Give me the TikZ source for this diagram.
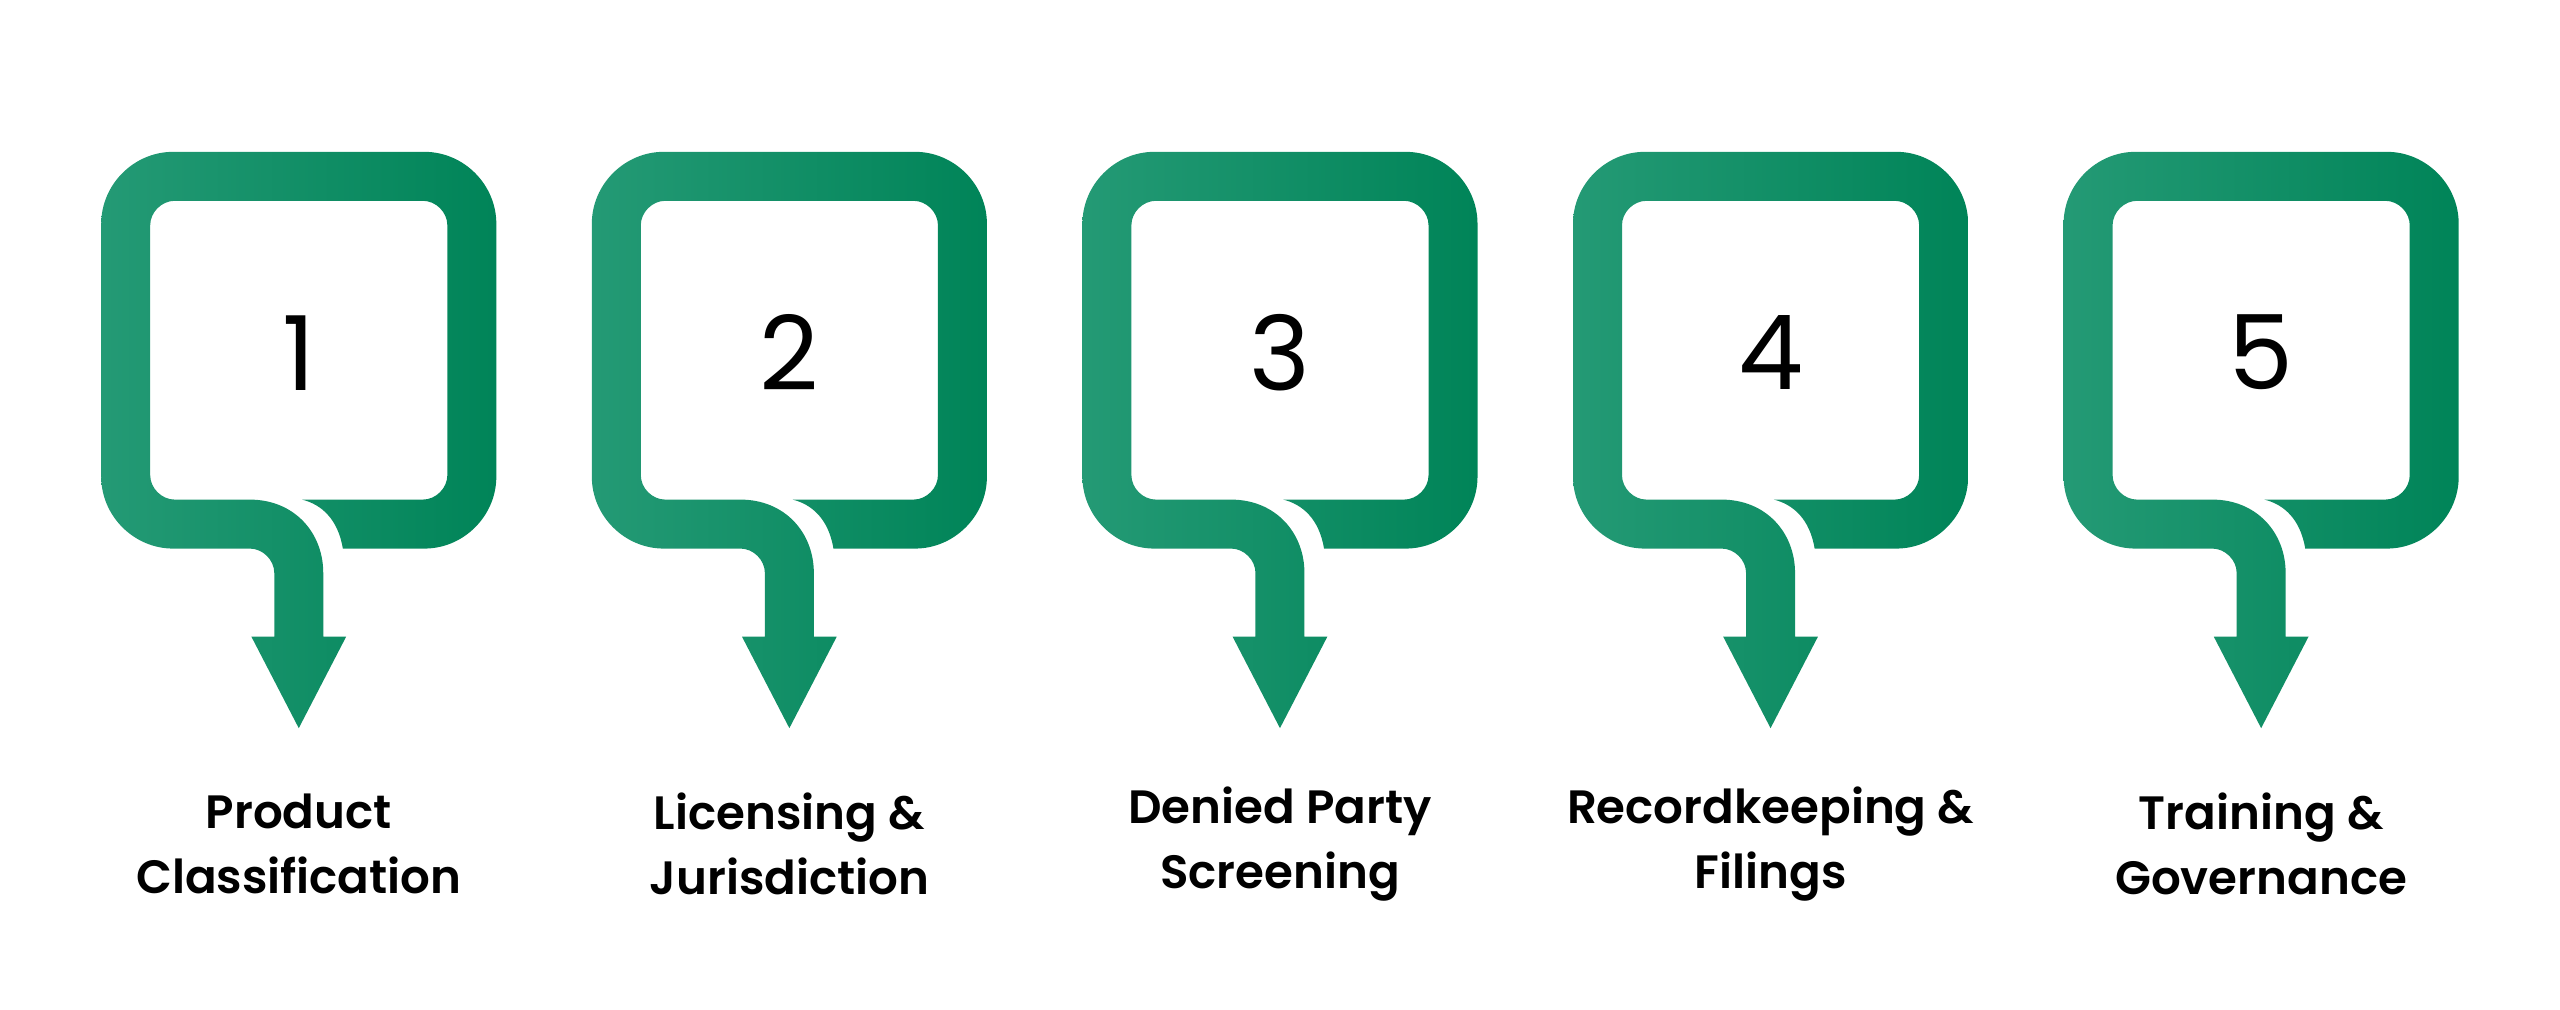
\documentclass[tikz,border=0pt]{standalone}
\usepackage{fontspec}
\setmainfont{Poppins}[BoldFont={Poppins SemiBold}]
\definecolor{gleft}{RGB}{36,154,117}
\definecolor{gright}{RGB}{0,132,88}
\tikzset{
  callout/.style={left color=gleft,right color=gright,draw=none},
  number/.style={font=\fontsize{29.4}{29.4}\selectfont},
  steplabel/.style={align=center,font=\bfseries\fontsize{13.3}{18.6}\selectfont}
}
\begin{document}
\begin{tikzpicture}[x=0.016327cm,y=-0.016327cm]
\useasboundingbox (0,0) rectangle (1568,618.6);
\foreach \i/\txt in {1/{Product\\Classification},2/{Licensing \&\\Jurisdiction},3/{Denied Party\\Screening},4/{Recordkeeping \&\\Filings},5/{Training \&\\Governance}}{
\begin{scope}[xshift={(\i-1)*4.906cm}]
% bubble with arrow
\shade[callout] (168,390) -- (168,351) .. controls (168,343) and (161,336) .. (153,336) -- (106,336)
  .. controls (82,336) and (62,316) .. (62,292) -- (62,137) .. controls (62,113) and (82,93) .. (106,93)
  -- (260,93) .. controls (284,93) and (304,113) .. (304,137) -- (304,292)
  .. controls (304,316) and (284,336) .. (260,336) -- (210,336)
  .. controls (207,318) and (197,309) .. (185,306) -- (259,306)
  .. controls (267,306) and (274,299) .. (274,291) -- (274,138)
  .. controls (274,130) and (267,123) .. (259,123) -- (107,123)
  .. controls (99,123) and (92,130) .. (92,138) -- (92,291)
  .. controls (92,299) and (99,306) .. (107,306) -- (153,306)
  .. controls (180,306) and (198,326) .. (198,351) -- (198,390) -- (212,390) -- (183,446) -- (154,390) -- cycle;
\node[number] (num\i) at (183,216) {\i};
\node[steplabel] (lab\i) at (183,517) {\txt};
\end{scope}
}
\end{tikzpicture}
\end{document}
